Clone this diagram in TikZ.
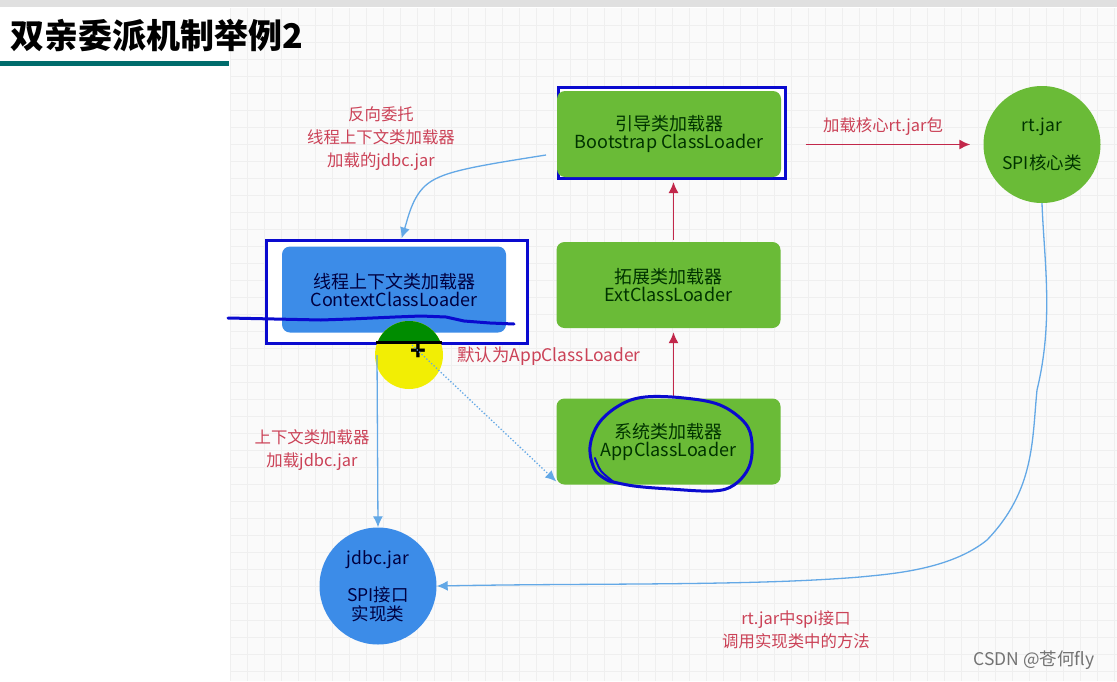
\documentclass[tikz,border=0pt]{standalone}
\usepackage{fontspec}
\setmainfont{Noto Sans CJK SC}
\usetikzlibrary{positioning,arrows.meta}
\definecolor{boxgreen}{HTML}{6ABB37}
\definecolor{boxblue}{HTML}{3C8CE8}
\definecolor{penblue}{HTML}{0A0ACF}
\definecolor{linkblue}{HTML}{63A8E6}
\definecolor{linkred}{HTML}{C2274A}
\definecolor{labelred}{HTML}{CB4257}
\definecolor{gridgray}{HTML}{EFEFEF}
\tikzset{
  greenbox/.style={fill=boxgreen, rounded corners=8pt, minimum width=224pt, minimum height=86pt, align=center, text=black!80!green, font=\fontsize{18}{18}\selectfont},
  bluebox/.style={greenbox, fill=boxblue, text=black!75!blue},
  penframe/.style={draw=penblue, line width=3pt, fill=white, inner sep=0pt},
  jarcircle/.style={circle, minimum size=117pt, inner sep=0pt, align=center, font=\fontsize{17.5}{19}\selectfont},
  redlabel/.style={text=labelred, align=center, font=\fontsize{16.4}{23}\selectfont},
  redlink/.style={linkred, line width=1.5pt, -{Latex[length=11pt,width=10pt]}},
  bluelink/.style={linkblue, line width=1.3pt, -{Latex[length=11pt,width=10pt]}},
  penline/.style={penblue, line width=3pt, line cap=round, line join=round}
}
\begin{document}
\begin{tikzpicture}[x=1pt,y=-1pt]
    \useasboundingbox (0,0) rectangle (1117,681);
    % page and grid
    \fill[white] (0,0) rectangle (1117,681);
    \fill[black!2] (230,8) rectangle (1117,681);
    \foreach \x in {230,247,...,1117} \draw[gridgray, very thin] (\x,8) -- (\x,681);
    \foreach \y in {25,42,...,681} \draw[gridgray, very thin] (230,\y) -- (1117,\y);
    \fill[black!12] (0,0) rectangle (1117,7);

    % title
    \node[anchor=west, inner sep=0pt, font=\fontsize{34}{36}\bfseries\selectfont] (title) at (10,36) {双亲委派机制举例2};
    \fill[teal!85!black] (0,61) rectangle (229,66);

    % frames and boxes
    \node[penframe, minimum width=227pt, minimum height=91pt] (bootFrame) at (671.5,133) {};
    \node[greenbox] (boot) at (669,134) {引导类加载器\\Bootstrap ClassLoader};
    \node[greenbox] (ext) at (668.5,285) {拓展类加载器\\ExtClassLoader};
    \node[greenbox] (app) at (668.5,441.5) {系统类加载器\\AppClassLoader};
    \node[penframe, minimum width=261pt, minimum height=103pt] (contextFrame) at (396.5,291.5) {};
    \node[bluebox] (context) at (394,289.5) {线程上下文类加载器\\ContextClassLoader};

    % circles
    \node[jarcircle, fill=boxgreen, text=black!80!green] (rtjar) at (1042,144.5) {rt.jar\\[18pt]SPI核心类};
    \node[jarcircle, fill=boxblue, text=black!75!blue] (jdbcjar) at (378,586) {jdbc.jar\\[18pt]SPI接口\\实现类};

    % cursor highlight
    \fill[yellow!95!green] (409,355) circle (34);
    \begin{scope}
        \clip (266,240) rectangle (527,341);
        \fill[green!55!black] (409,355) circle (34);
    \end{scope}
    \draw[black, line width=3pt] (376,342) -- (442,342);
    \node[inner sep=0pt, font=\fontsize{26}{26}\bfseries\selectfont] (cursor) at (418,352) {+};

    % red links
    \draw[redlink, shorten <=2pt, shorten >=4pt] ([xshift=5pt]app.north) -- ([xshift=5pt]ext.south);
    \draw[redlink, shorten <=2pt, shorten >=2pt] ([xshift=5pt]ext.north) -- ([xshift=2pt]bootFrame.south);
    \draw[redlink, shorten <=19pt, shorten >=13pt] (bootFrame.east |- rtjar.west) -- (rtjar.west);

    % blue links
    \coordinate (bootOut) at (546,155);
    \coordinate (contextOut) at (377,355);
    \coordinate (cursorOut) at (412,345);
    \draw[bluelink] (bootOut) .. controls (470,167) and (440,172) .. (425,186) .. controls (412,198) and (408,218) .. ([xshift=5pt]contextFrame.north);
    \draw[bluelink] (contextOut) -- (jdbcjar.north);
    \draw[bluelink, dotted] (cursorOut) -- ([yshift=-40pt]app.west);
    \draw[bluelink] (rtjar.south) .. controls (1044,260) and (1054,320) .. (1037,390) .. controls (1032,440) and (1035,490) .. (987,540) .. controls (950,570) and (890,574) .. (860,577) .. controls (750,586) and (600,583) .. (jdbcjar.east);

    % labels
    \node[redlabel] (reverseLabel) at (381,139) {反向委托\\线程上下文类加载器\\加载的jdbc.jar};
    \node[redlabel] (coreLabel) at (883,127) {加载核心rt.jar包};
    \node[redlabel, font=\fontsize{17.4}{23}\selectfont] (defaultLabel) at (549,356) {默认为AppClassLoader};
    \node[redlabel] (contextLabel) at (312,450) {上下文类加载器\\加载jdbc.jar};
    \node[redlabel] (spiLabel) at (796,629.5) {rt.jar中spi接口\\调用实现类中的方法};
    \node[text=black!55, font=\fontsize{17.5}{18}\selectfont] (mark) at (1034,660) {CSDN @苍何fly};

    % pen strokes
    \draw[penline] (228,318) -- (321,320) -- (350,319) -- (395,317) -- (421,316) -- (446,317) -- (464,321) -- (490,323) -- (514,324);
    \draw[penline] plot[smooth, tension=0.6] coordinates {(609,481) (595,470) (590,447) (599,423) (620,405) (645,397) (684,398) (720,405) (745,423) (752,443) (749,467) (734,485) (713,491) (670,489) (634,486) (609,481)};
    \draw[penline, line width=2pt] plot[smooth] coordinates {(595,458) (601,471) (615,483)};
\end{tikzpicture}
\end{document}
